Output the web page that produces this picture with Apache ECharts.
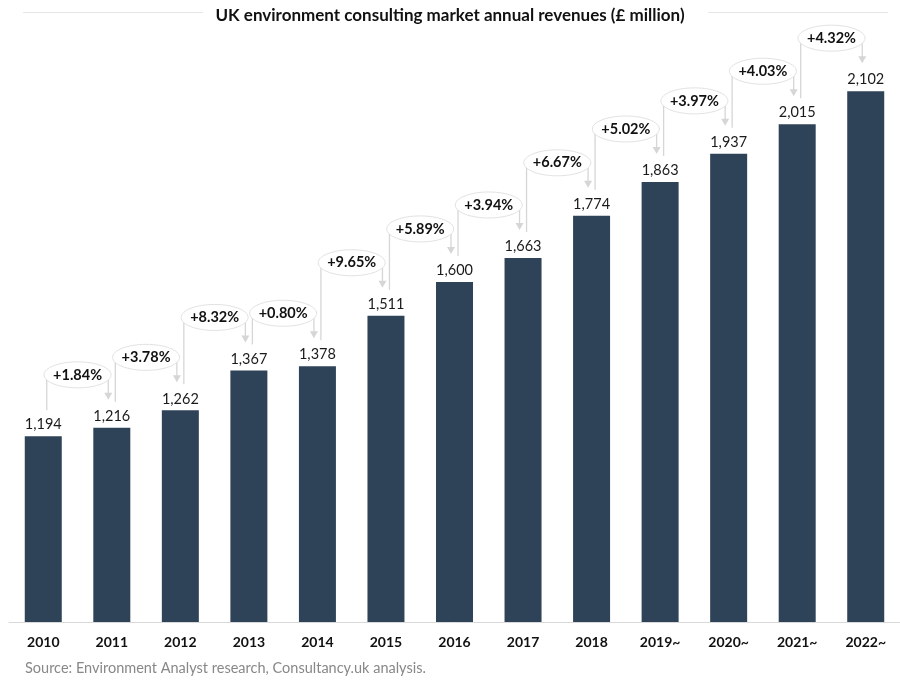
<!DOCTYPE html>
<html>
<head>
<meta charset="utf-8">
<script src="https://cdn.jsdelivr.net/npm/echarts@6/dist/echarts.min.js"></script>
<style>
  html, body { margin: 0; padding: 0; background: #ffffff; }
  #chart { width: 900px; height: 683px; }
</style>
</head>
<body>
<div id="chart"></div>
<script>
const categories = ['2010', '2011', '2012', '2013', '2014', '2015', '2016', '2017', '2018', '2019~', '2020~', '2021~', '2022~'];
const revenues = [1194, 1216, 1262, 1367, 1378, 1511, 1600, 1663, 1774, 1863, 1937, 2015, 2102];
const growthLabels = ['+1.84%', '+3.78%', '+8.32%', '+0.80%', '+9.65%', '+5.89%', '+3.94%', '+6.67%', '+5.02%', '+3.97%', '+4.03%', '+4.32%'];
const titleText = 'UK environment consulting market annual revenues (£ million)';
const sourceText = 'Source: Environment Analyst research, Consultancy.uk analysis.';

const FONT = 'Lato, "Open Sans", sans-serif';
const chart = echarts.init(document.getElementById('chart'));

const growthData = growthLabels.map((g, k) => [k + 1, revenues[k + 1], revenues[k], g]);

function renderGrowth(params, api) {
  const i = api.value(0);
  const p0 = api.coord([i - 1, api.value(2)]);
  const p1 = api.coord([i, api.value(1)]);
  const label = growthLabels[i - 1];
  const cx = (p0[0] + p1[0]) / 2;
  const cy = p1[1] - 53;
  const lx = p0[0] + 3.5;
  const rx = p1[0] - 3.5;
  const tip = p1[1] - 28;
  const lineStyle = { stroke: '#d6d6d6', lineWidth: 1.3 };
  return {
    type: 'group',
    children: [
      { type: 'line', shape: { x1: lx, y1: cy + 4, x2: lx, y2: p0[1] - 26 }, style: lineStyle },
      { type: 'line', shape: { x1: rx, y1: cy + 4, x2: rx, y2: tip - 6 }, style: lineStyle },
      { type: 'polygon', shape: { points: [[rx - 4, tip - 7], [rx + 4, tip - 7], [rx, tip]] }, style: { fill: '#d6d6d6' } },
      { type: 'ellipse', shape: { cx: cx, cy: cy, rx: 33.5, ry: 13 }, style: { fill: '#ffffff', stroke: '#e2e2e2', lineWidth: 1 } },
      { type: 'text', style: { text: label, x: cx, y: cy, align: 'center', verticalAlign: 'middle', fontSize: 14.5, fontWeight: 'bold', fontFamily: FONT, fill: '#111111' } }
    ]
  };
}

chart.setOption({
  animation: false,
  backgroundColor: '#ffffff',
  title: {
    text: titleText,
    left: 'center',
    top: 2,
    textStyle: { fontFamily: FONT, fontSize: 17, fontWeight: 'bold', color: '#111111' }
  },
  graphic: [
    { type: 'line', shape: { x1: 23, y1: 12.5, x2: 203, y2: 12.5 }, style: { stroke: '#e6e6e6', lineWidth: 1 } },
    { type: 'line', shape: { x1: 708, y1: 12.5, x2: 888, y2: 12.5 }, style: { stroke: '#e6e6e6', lineWidth: 1 } },
    { type: 'text', left: 25, top: 661, style: { text: sourceText, fontFamily: FONT, fontSize: 14.5, fill: '#888888' } }
  ],
  grid: { left: 9, width: 893, top: 30, bottom: 61, containLabel: false },
  xAxis: {
    type: 'category',
    data: categories,
    axisTick: { show: false },
    axisLine: { lineStyle: { color: '#d9d9d9', width: 1 } },
    axisLabel: { fontFamily: FONT, fontSize: 14, fontWeight: 'bold', color: '#111111', margin: 13 }
  },
  yAxis: { type: 'value', min: 705, max: 2263, show: false, splitLine: { show: false } },
  series: [
    {
      type: 'bar',
      data: revenues,
      barWidth: 37,
      itemStyle: { color: '#2e4357' },
      label: {
        show: true,
        position: 'top',
        distance: 4,
        fontFamily: FONT,
        fontSize: 14.5,
        color: '#1a1a1a',
        formatter: p => p.value.toLocaleString('en-US')
      }
    },
    {
      type: 'custom',
      renderItem: renderGrowth,
      data: growthData,
      encode: { x: 0, y: 1 },
      clip: false,
      z: 5
    }
  ]
});
</script>
</body>
</html>
